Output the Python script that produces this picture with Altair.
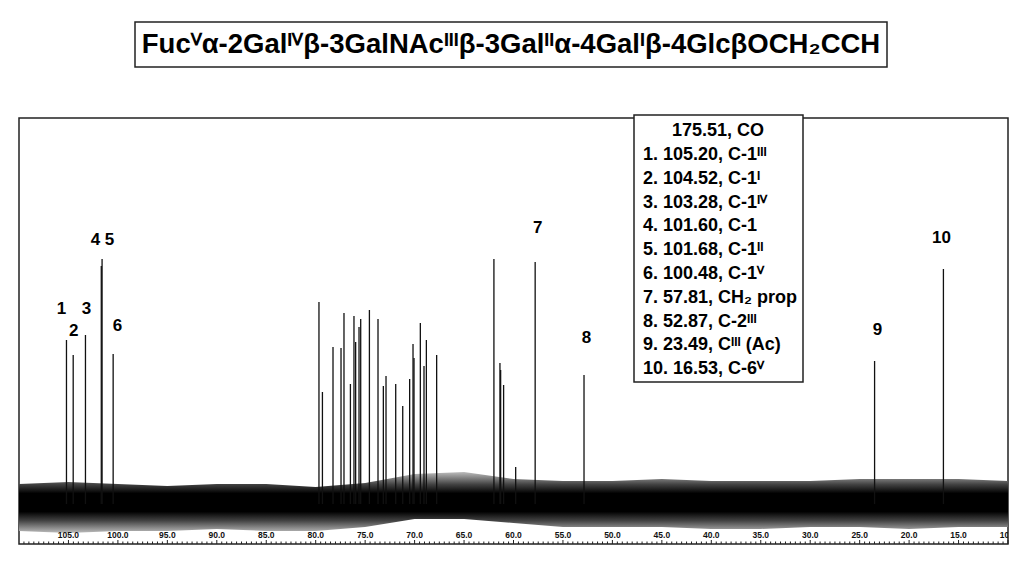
import altair as alt
import pandas as pd

# ---------------- data ----------------
title_text = "Fucⱽα-2Galᴵⱽβ-3GalNAcᴵᴵᴵβ-3Galᴵᴵα-4Galᴵβ-4GlcβOCH₂CCH"

legend_header = "175.51, CO"
legend_lines = [
    "1. 105.20, C-1ᴵᴵᴵ",
    "2. 104.52, C-1ᴵ",
    "3. 103.28, C-1ᴵⱽ",
    "4. 101.60, C-1",
    "5. 101.68, C-1ᴵᴵ",
    "6. 100.48, C-1ⱽ",
    "7. 57.81, CH₂ prop",
    "8. 52.87, C-2ᴵᴵᴵ",
    "9. 23.49, Cᴵᴵᴵ (Ac)",
    "10. 16.53, C-6ⱽ",
]

# peak positions (ppm) and heights (arbitrary intensity units)
peak_ppm = [105.20, 104.52, 103.28, 101.60, 101.68, 100.48,
            79.67, 79.32, 78.25, 77.44, 77.14, 76.49, 76.13, 75.96, 75.62, 75.45,
            74.57, 73.70, 73.16, 72.89, 71.91, 71.20, 70.50, 70.16, 70.06, 69.42,
            69.05, 68.81, 67.77,
            61.98, 61.37, 61.30, 61.00, 59.78,
            57.81, 52.87, 23.49, 16.53]
peak_int = [204, 189, 209, 285, 278, 190,
            242, 152, 197, 196, 231, 160, 228, 202, 217, 225,
            234, 225, 158, 168, 160, 138, 165, 200, 186, 221,
            178, 204, 189,
            285, 181, 174, 159, 77,
            282, 169, 183, 275]

# peak number labels
label_text = ["1", "2", "3", "4 5", "6", "7", "8", "9", "10"]
label_ppm = [105.71, 104.47, 103.18, 101.56, 100.05, 57.56, 52.61, 23.19, 16.72]
label_int = [235, 213, 235, 304, 218, 316, 206, 214, 306]

# baseline noise envelope (extremes of the noise), read every 5 ppm
noise_ppm = [110, 105, 100, 95, 90, 85, 80, 75, 70, 65, 60, 55, 50, 45, 40, 35, 30, 25, 20, 15, 10]
noise_hi = [60, 62, 60, 58, 60, 60, 57, 61, 70, 72, 65, 63, 63, 65, 63, 63, 63, 65, 65, 65, 63]
noise_lo = [13, 11, 13, 13, 15, 13, 13, 17, 25, 25, 21, 17, 17, 17, 15, 15, 17, 17, 15, 17, 17]

# axis ticks (ppm)
major_ticks = [105, 100, 95, 90, 85, 80, 75, 70, 65, 60, 55, 50, 45, 40, 35, 30, 25, 20, 15, 10]
minor_ticks = [110 - 0.5 * i for i in range(201) if (110 - 0.5 * i) % 5 != 0]

peak_base = 40

# ---------------- chart ----------------
W, H = 989, 426
FONT = "Liberation Sans"

x_scale = alt.Scale(domain=[110, 10], nice=False, zero=False)
y_scale = alt.Scale(domain=[0, 426], nice=False, zero=False)

noise_df = pd.DataFrame({"ppm": noise_ppm, "hi": noise_hi, "lo": noise_lo})
peaks_df = pd.DataFrame({"ppm": peak_ppm, "int": peak_int})
labels_df = pd.DataFrame({"ppm": label_ppm, "int": label_int, "label": label_text})
major_df = pd.DataFrame({"v": major_ticks})
minor_df = pd.DataFrame({"v": minor_ticks})
one = pd.DataFrame({"k": [0]})

X = lambda f: alt.X(f, scale=x_scale, axis=None)
Y = lambda f: alt.Y(f, scale=y_scale, axis=None)

noise_fill = alt.Gradient(
    gradient="linear", x1=0, x2=0, y1=0, y2=1,
    stops=[
        alt.GradientStop(color="#bdbdbd", offset=0.0),
        alt.GradientStop(color="#444444", offset=0.2),
        alt.GradientStop(color="#000000", offset=0.35),
        alt.GradientStop(color="#000000", offset=0.65),
        alt.GradientStop(color="#444444", offset=0.8),
        alt.GradientStop(color="#bdbdbd", offset=1.0),
    ],
)

noise = alt.Chart(noise_df).mark_area(color=noise_fill).encode(
    x=X("ppm:Q"), y=Y("hi:Q"), y2="lo:Q",
)
peaks = alt.Chart(peaks_df).mark_rule(color="#111111", strokeWidth=1.3).encode(
    x=X("ppm:Q"), y=Y("int:Q"), y2=alt.datum(peak_base),
)
plabels = alt.Chart(labels_df).mark_text(
    font=FONT, fontSize=17, fontWeight="bold", color="#000", align="center", baseline="middle"
).encode(x=X("ppm:Q"), y=Y("int:Q"), text="label:N")

minor = alt.Chart(minor_df).mark_rule(color="#222", strokeWidth=1).encode(
    x=X("v:Q"), y=alt.value(H), y2=alt.value(H - 2.5),
)
major = alt.Chart(major_df).mark_rule(color="#222", strokeWidth=1).encode(
    x=X("v:Q"), y=alt.value(H), y2=alt.value(H - 4),
)
tick_labels = alt.Chart(major_df).mark_text(
    font=FONT, fontSize=8.5, fontWeight="bold", color="#111", align="center",
    baseline="bottom", clip=True,
).encode(x=X("v:Q"), y=alt.value(H - 4), text=alt.Text("v:Q", format=".1f"))

legend_box = alt.Chart(one).mark_rect(fill="white", stroke="#222", strokeWidth=1.5).encode(
    x=alt.value(615), x2=alt.value(784), y=alt.value(-3), y2=alt.value(264)
)
legend_head = alt.Chart(one).mark_text(
    font=FONT, fontSize=18, fontWeight="bold", color="#000", align="center", baseline="middle"
).encode(x=alt.value(699), y=alt.value(13), text=alt.value(legend_header))
legend_body = alt.Chart(one).mark_text(
    font=FONT, fontSize=18, fontWeight="bold", color="#000", align="left",
    baseline="middle", lineHeight=23.8,
).encode(x=alt.value(624), y=alt.value(37), text=alt.value(legend_lines))

title_box = alt.Chart(one).mark_rect(fill="white", stroke="#222", strokeWidth=1.5).encode(
    x=alt.value(116), x2=alt.value(868), y=alt.value(-96), y2=alt.value(-51)
)
title_txt = alt.Chart(one).mark_text(
    font=FONT, fontSize=27.5, fontWeight="bold", color="#000", align="center", baseline="middle"
).encode(x=alt.value(492), y=alt.value(-73), text=alt.value(title_text))

chart = alt.layer(
    noise, peaks, plabels, minor, major, tick_labels,
    legend_box, legend_head, legend_body, title_box, title_txt,
).properties(
    width=W, height=H,
    autosize=alt.AutoSizeParams(type="none"),
    padding={"left": 11, "top": 110, "right": 8, "bottom": 20},
    background="white",
).configure_view(stroke="#222", strokeWidth=1.5)

chart.save("out.html", embed_options={"renderer": "svg", "actions": False})
